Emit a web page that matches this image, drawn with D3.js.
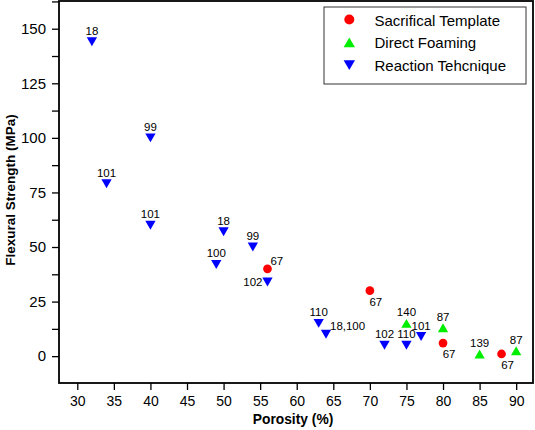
<!DOCTYPE html>
<html><head><meta charset="utf-8">
<script src="https://cdn.jsdelivr.net/npm/d3@7"></script>
<style>body{margin:0;background:#fff}svg{display:block}text{font-family:"Liberation Sans",Arial,sans-serif}</style>
</head><body><svg id="c" width="535" height="430"></svg>
<script>
const seriesNames = ["Sacrifical Template", "Direct Foaming", "Reaction Tehcnique"];
const seriesColors = ["#ff0000", "#00ee00", "#0000ff"];
// Sacrificial template
const stX = [56, 70, 80, 88];
const stY = [40, 30, 6, 1];
const stLabel = ["67", "67", "67", "67"];
const stPos = ["ur", "below", "below", "below"];
// Direct foaming
const dfX = [75, 80, 85, 90];
const dfY = [15, 13, 1, 2.5];
const dfLabel = ["140", "87", "139", "87"];
const dfPos = ["above", "above", "above", "above"];
// Reaction technique
const rtX = [32, 34, 40, 40, 49, 50, 54, 56, 63, 64, 72, 75, 77];
const rtY = [144, 79, 100, 60, 42, 57, 50, 34, 15, 10, 5, 5, 9];
const rtLabel = ["18", "101", "99", "101", "100", "18", "99", "102", "110", "18,100", "102", "110", "101"];
const rtPos = ["above","above","above","above","above","above","above","left","above","right","above","above","above"];
const xTicks = [30, 35, 40, 45, 50, 55, 60, 65, 70, 75, 80, 85, 90];
const yTicks = [0, 25, 50, 75, 100, 125, 150];

const svg = d3.select("#c");
const L = 59, R = 533, T = 1, B = 383;
const x = d3.scaleLinear().domain([27.5, 92.3]).range([L, R]);
const y = d3.scaleLinear().domain([-12.3, 162.7]).range([B, T]);

// axes
svg.append("g").attr("transform", `translate(0,${B})`)
  .call(d3.axisBottom(x).tickValues(xTicks).tickSize(7).tickPadding(6).tickFormat(d3.format("d")))
  .selectAll(".tick text").attr("font-size", 14);
const yMinor = d3.range(12.5, 163, 25);
svg.append("g").attr("transform", `translate(${L},0)`)
  .call(d3.axisLeft(y).tickValues(yMinor).tickSize(7).tickFormat(""));
svg.append("g").attr("transform", `translate(${L},0)`)
  .call(d3.axisLeft(y).tickValues(yTicks).tickSize(7).tickPadding(6).tickFormat(d3.format("d")))
  .selectAll(".tick text").attr("font-size", 15);
svg.selectAll(".domain").remove();
svg.selectAll(".tick line").attr("stroke", "#000").attr("stroke-width", 1.3);
svg.selectAll(".tick text").attr("fill", "#000")
  .attr("font-family", "Liberation Sans, Arial, sans-serif");
// frame
svg.append("rect").attr("x", L).attr("y", T).attr("width", R - L).attr("height", B - T)
  .attr("fill", "none").attr("stroke", "#000").attr("stroke-width", 1.8);

// titles
svg.append("text").attr("x", 293).attr("y", 424).attr("text-anchor", "middle")
  .attr("font-size", 13.8).attr("font-weight", "bold").text("Porosity (%)");
svg.append("text").attr("transform", `translate(15,190) rotate(-90)`)
  .attr("text-anchor", "middle").attr("font-size", 13.5).attr("font-weight", "bold")
  .text("Flexural Strength (MPa)");

const sym = [d3.symbolCircle, d3.symbolTriangle, d3.symbolTriangle];
// draw a marker centred on its bounding box
function marker(g, i, px, py, size) {
  const h = Math.sqrt(size * 4 / Math.sqrt(3)) * Math.sqrt(3) / 2; // triangle height
  const off = i === 0 ? 0 : h / 6;
  const rot = i === 2 ? 180 : 0;
  const dy = i === 1 ? off : (i === 2 ? -off : 0);
  g.append("path").attr("d", d3.symbol(sym[i], size)())
    .attr("transform", `translate(${px},${py + dy}) rotate(${rot})`)
    .attr("fill", seriesColors[i]);
}
const plotSizes = [60, 46, 46];
function drawSeries(xs, ys, labels, pos, i) {
  const g = svg.append("g");
  xs.forEach((xv, k) => {
    const px = x(xv), py = y(ys[k]);
    marker(g, i, px, py, plotSizes[i]);
    const t = g.append("text").attr("font-size", 11.5).attr("fill", "#000").text(labels[k]);
    const p = pos[k];
    if (p === "above") t.attr("x", px).attr("y", py - 7).attr("text-anchor", "middle");
    else if (p === "below") t.attr("x", px + 6).attr("y", py + 15).attr("text-anchor", "middle");
    else if (p === "left") t.attr("x", px - 5).attr("y", py + 4).attr("text-anchor", "end");
    else if (p === "right") t.attr("x", px + 4).attr("y", py - 4).attr("text-anchor", "start");
    else if (p === "ur") t.attr("x", px + 3).attr("y", py - 4).attr("text-anchor", "start");
  });
}
drawSeries(stX, stY, stLabel, stPos, 0);
drawSeries(dfX, dfY, dfLabel, dfPos, 1);
drawSeries(rtX, rtY, rtLabel, rtPos, 2);

// legend
const lg = svg.append("g");
lg.append("rect").attr("x", 324).attr("y", 7).attr("width", 202).attr("height", 77)
  .attr("fill", "#fff").attr("stroke", "#333").attr("stroke-width", 1);
const legSizes = [78, 56, 56];
seriesNames.forEach((n, i) => {
  const ly = 19.5 + i * 22.8;
  marker(lg, i, 349.3, ly, legSizes[i]);
  lg.append("text").attr("x", 374.5).attr("y", ly + 6).attr("font-size", 15).attr("fill", "#000").text(n);
});
</script></body></html>
